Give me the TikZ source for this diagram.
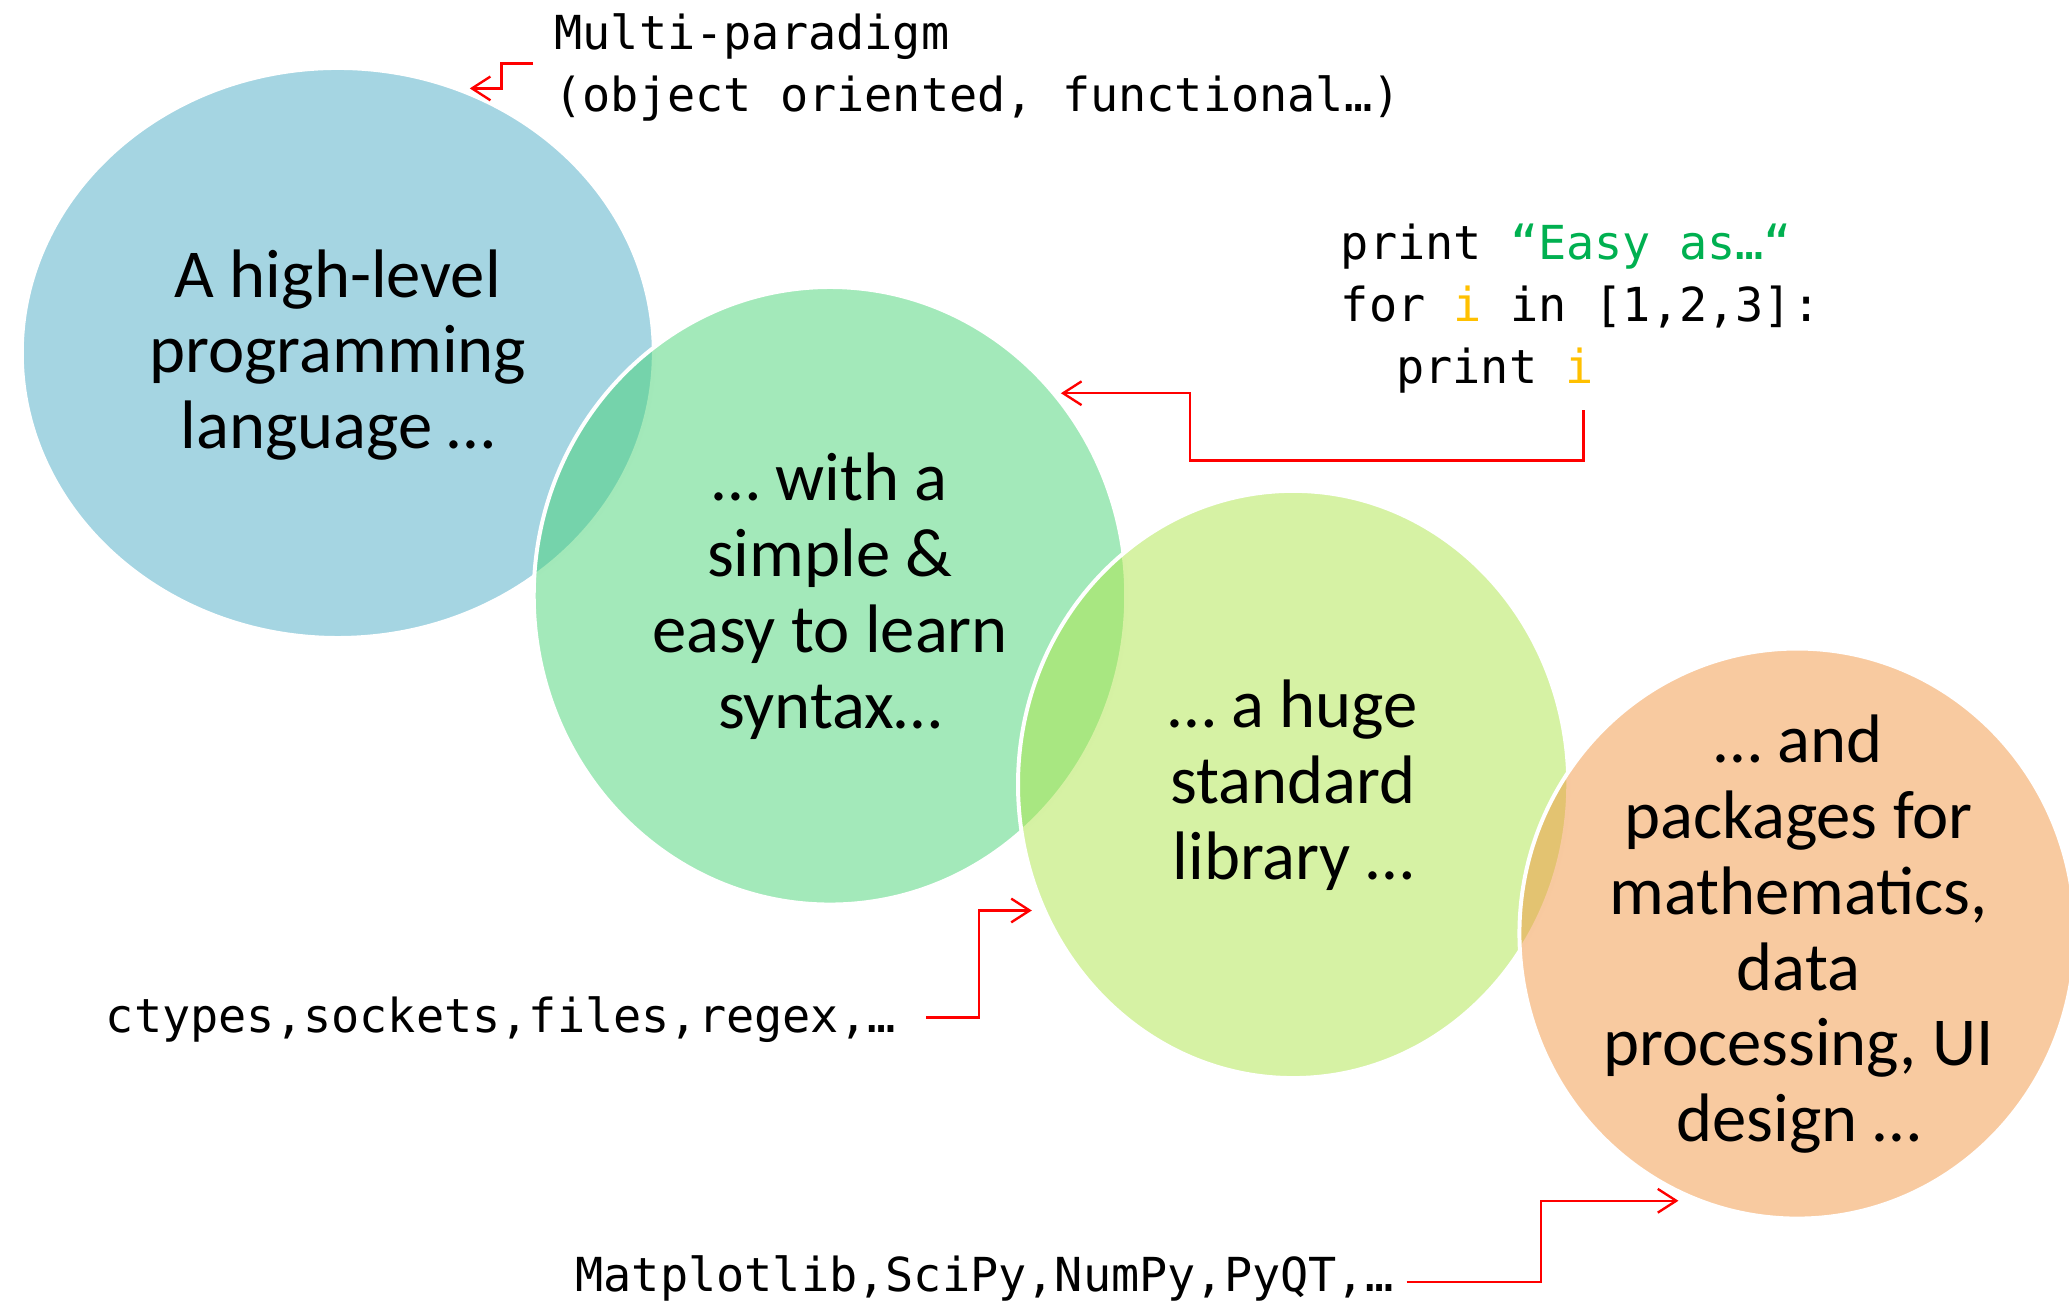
\documentclass[tikz,border=0pt]{standalone}
\usepackage{fontspec}
\setmainfont{Carlito}
\newfontfamily\codefont{DejaVu Sans Mono}
\usetikzlibrary{shapes.geometric,arrows.meta}
\definecolor{bblue}{RGB}{75,171,197}
\definecolor{bgreen}{RGB}{71,211,117}
\definecolor{byellow}{RGB}{173,229,73}
\definecolor{borange}{RGB}{241,149,65}
\definecolor{codegreen}{RGB}{0,176,80}
\definecolor{codeyellow}{RGB}{255,192,0}
\begin{document}
\begin{tikzpicture}[x=1pt,y=-1pt,
  bubble/.style={ellipse, fill opacity=0.5, draw=white, draw opacity=1, line width=3pt, inner sep=0pt},
  bubbletext/.style={align=center, font=\fontsize{52}{57.5}\selectfont, inner sep=0pt},
  code/.style={font=\codefont\fontsize{35.5}{47}\selectfont, anchor=base west, inner sep=0pt},
  redarrow/.style={draw=red, line width=1.8pt, -{Straight Barb[length=14pt,width=18pt]}}]
\useasboundingbox (0,0) rectangle (1568,988.2);
% bubbles
\node[bubble, fill=bblue,   minimum width=479pt, minimum height=432pt] (hl)  at (256,267.5) {};
\node[bubble, fill=bgreen,  minimum width=449pt, minimum height=468pt] (syn) at (629,451.5) {};
\node[bubble, fill=byellow, minimum width=417pt, minimum height=445pt] (lib) at (980,594.5) {};
\node[bubble, fill=borange, minimum width=421pt, minimum height=432pt] (pkg) at (1362,707.5) {};
% bubble texts
\node[bubbletext] (hlt)  at (256,269) {A high-level\\programming\\language …};
\node[bubbletext] (synt) at (629,452) {… with a\\simple \&\\easy to learn\\syntax…};
\node[bubbletext] (libt) at (980,595) {… a huge\\standard\\library …};
\node[bubbletext] (pkgt) at (1363,708) {… and\\packages for\\mathematics,\\data\\processing, UI\\design …};
% annotations
\node[code] (multi1) at (420,37.7) {Multi-paradigm};
\node[code] (multi2) at (420,84.3) {(object oriented, functional…)};
\node[code] (code1) at (1016,196.6) {print \textcolor{codegreen}{“Easy as…“}};
\node[code] (code2) at (1016,244) {for \textcolor{codeyellow}{i} in [1,2,3]:};
\node[code] (code3) at (1058,290.5) {print \textcolor{codeyellow}{i}};
\node[code] (ctypes) at (80,782.8) {ctypes,sockets,files,regex,…};
\node[code] (matp) at (436,979) {Matplotlib,SciPy,NumPy,PyQT,…};
% connector ends
\coordinate (s1) at (404,48);
\coordinate (t1) at (356,67);
\coordinate (s2) at (1200,311);
\coordinate (t2) at (804,298);
\coordinate (s3) at (702,771);
\coordinate (t3) at (782,690);
\coordinate (s4) at (1066,971.5);
\coordinate (t4) at (1272,910);
% connectors
\draw[redarrow] (s1) -- ++(-24,0) |- (t1);
\draw[redarrow] (s2) -- ++(0,38) -| (902,298) -- (t2);
\draw[redarrow] (s3) -- ++(40,0) |- (t3);
\draw[redarrow] (s4) -- ++(102,0) |- (t4);
\end{tikzpicture}
\end{document}
